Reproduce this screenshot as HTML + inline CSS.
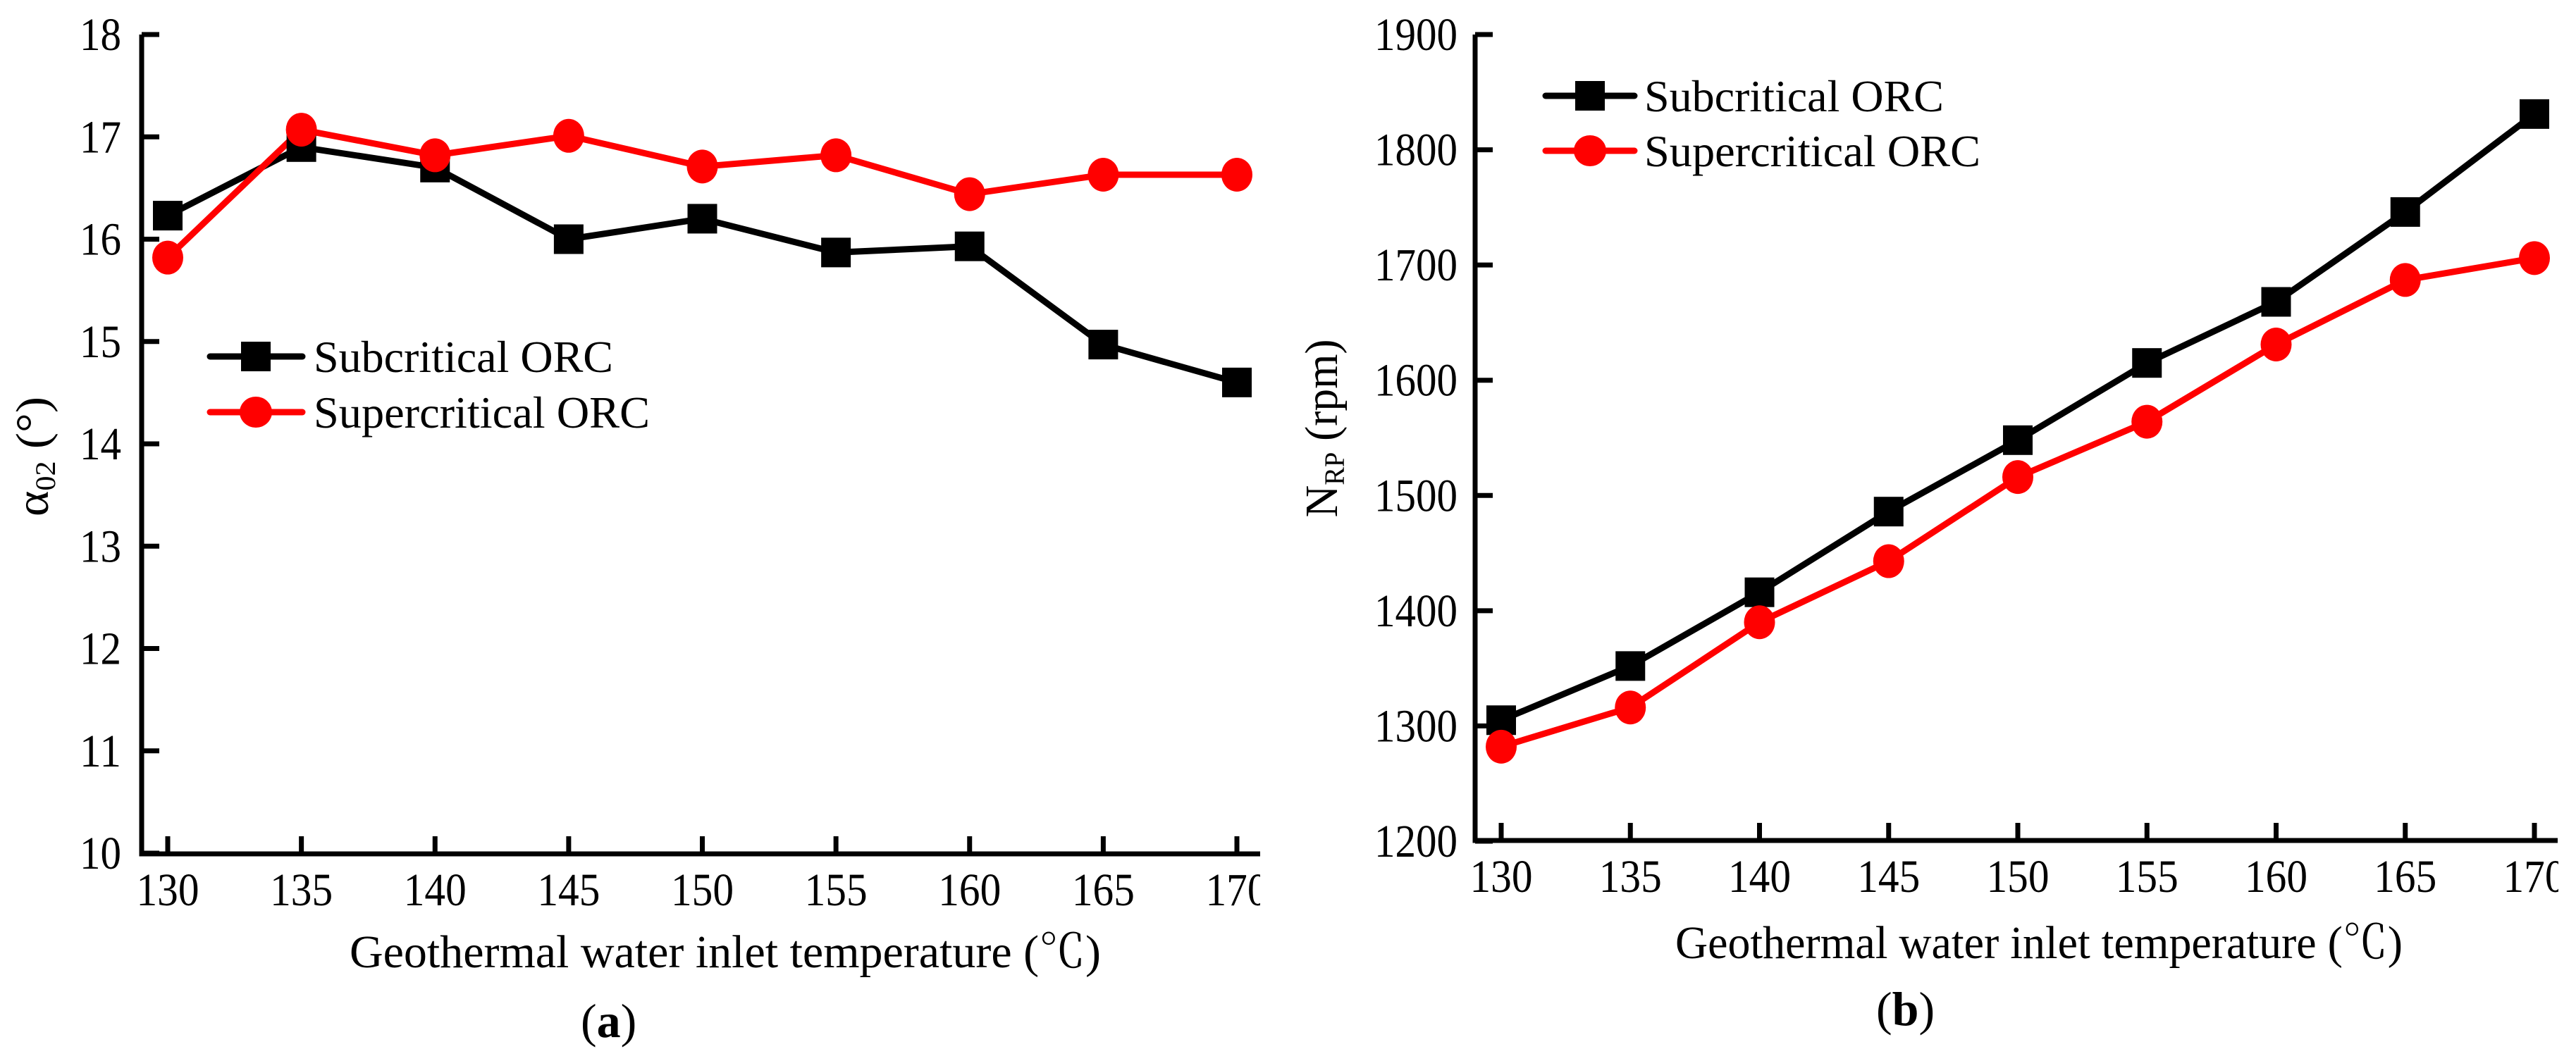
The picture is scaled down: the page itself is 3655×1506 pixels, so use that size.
<!DOCTYPE html>
<html><head><meta charset="utf-8"><style>
html,body{margin:0;padding:0;background:#fff}
svg{display:block}
text{font-family:"Liberation Serif","Noto Serif CJK SC",serif;fill:#000}
</style></head><body>
<svg id="fig" width="3655" height="1506" viewBox="0 0 3655 1506" xmlns="http://www.w3.org/2000/svg">
<defs>
<clipPath id="clipA"><rect x="0" y="0" width="1788" height="1506"/></clipPath>
<clipPath id="clipB"><rect x="1830" y="0" width="1800" height="1506"/></clipPath>
</defs>
<g id="chartA" clip-path="url(#clipA)"></g>
<g id="chartB" clip-path="url(#clipB)"></g>
<text x="68" y="648" font-size="66" text-anchor="middle" textLength="170" lengthAdjust="spacingAndGlyphs" transform="rotate(-90 68 648)">α<tspan font-size="40" dy="10">02</tspan><tspan dy="-10"> (°)</tspan></text>
<text x="1897" y="608" font-size="66" text-anchor="middle" textLength="253" lengthAdjust="spacingAndGlyphs" transform="rotate(-90 1897 608)">N<tspan font-size="40" dy="10">RP</tspan><tspan dy="-10"> (rpm)</tspan></text>
<text x="496" y="1373" font-size="66" textLength="1066" lengthAdjust="spacingAndGlyphs">Geothermal water inlet temperature (℃)</text>
<text x="2377" y="1360" font-size="66" textLength="1032" lengthAdjust="spacingAndGlyphs">Geothermal water inlet temperature (℃)</text>
<text x="824" y="1472" font-size="68">(<tspan font-weight="bold">a</tspan>)</text>
<text x="2662" y="1455" font-size="68">(<tspan font-weight="bold">b</tspan>)</text>
</svg>
<script>
const temps=[130,135,140,145,150,155,160,165,170];
const xTicks=[130,135,140,145,150,155,160,165,170];
const subA=[16.23,16.9,16.7,16.0,16.2,15.87,15.93,14.97,14.6];
const supA=[15.82,17.07,16.82,17.01,16.71,16.82,16.44,16.63,16.63];
const yTicksA=[10,11,12,13,14,15,16,17,18];
const subB=[1305,1352,1416,1486,1548,1615,1668,1746,1831];
const supB=[1282,1316,1390,1443,1516,1564,1631,1687,1706];
const yTicksB=[1200,1300,1400,1500,1600,1700,1800,1900];
const seriesNames=['Subcritical ORC','Supercritical ORC'];

const NS='http://www.w3.org/2000/svg';
function mk(tag,attrs,parent){const e=document.createElementNS(NS,tag);for(const k in attrs)e.setAttribute(k,attrs[k]);parent.appendChild(e);return e;}

function drawChart(g,cfg,sub,sup,yTicks){
  const sx=v=>cfg.x0+(v-130)/(170-130)*(cfg.x1-cfg.x0);
  const sy=v=>cfg.yb+(v-cfg.ymin)/(cfg.ymax-cfg.ymin)*(cfg.yt-cfg.yb);
  const ax=mk('path',{d:`M${cfg.ax} ${cfg.yt} L${cfg.ax} ${cfg.axy} L${cfg.xend} ${cfg.axy}`,fill:'none',stroke:'#000','stroke-width':7},g);
  
  
  yTicks.forEach(t=>{
    const y=sy(t);
    const tk=mk('line',{x1:cfg.ax,x2:cfg.ax+25,y1:y,y2:y,stroke:'#000','stroke-width':7},g);
    
    
    const s=String(t);
    const lb=mk('text',{x:cfg.lblR,y:y+22,'font-size':66,'text-anchor':'end',textLength:s.length*29.5,lengthAdjust:'spacingAndGlyphs'},g);
    lb.textContent=s;
    
    
  });
  xTicks.forEach(t=>{
    const x=sx(t);
    const tk=mk('line',{x1:x,x2:x,y1:cfg.axy,y2:cfg.axy-25,stroke:'#000','stroke-width':7},g);
    
    
    const lb=mk('text',{x:x,y:cfg.axy+73,'font-size':66,'text-anchor':'middle',textLength:89,lengthAdjust:'spacingAndGlyphs'},g);
    lb.textContent=String(t);
    
    
  });
  const series=[{d:sub,c:'#000',m:'sq',n:'subcritical'},{d:sup,c:'#ff0000',m:'ci',n:'supercritical'}];
  series.forEach(s=>{
    const pts=s.d.map((v,i)=>sx(temps[i])+','+sy(v)).join(' ');
    const pl=mk('polyline',{points:pts,fill:'none',stroke:s.c,'stroke-width':9,'stroke-linejoin':'round'},g);
    
    
  });
  series.forEach(s=>{
    s.d.forEach((v,i)=>{
      const x=sx(temps[i]),y=sy(v);
      let m;
      if(s.m==='sq') m=mk('rect',{x:x-21,y:y-21,width:42,height:42,fill:s.c},g);
      else m=mk('ellipse',{cx:x,cy:y,rx:22,ry:24,fill:s.c},g);
      
      
    });
  });
  series.forEach((s,i)=>{
    const y=cfg.legY[i];
    const ln=mk('line',{x1:cfg.legX0,x2:cfg.legX1,y1:y,y2:y,stroke:s.c,'stroke-width':9,'stroke-linecap':'round'},g);
    
    
    let m;
    if(s.m==='sq') m=mk('rect',{x:cfg.legM-21,y:y-21,width:42,height:42,fill:s.c},g);
    else m=mk('ellipse',{cx:cfg.legM,cy:y,rx:23,ry:22,fill:s.c},g);
    
    
    const t=mk('text',{x:cfg.legT,y:y+22,'font-size':64,textLength:i===0?425:477,lengthAdjust:'spacingAndGlyphs'},g);
    t.textContent=seriesNames[i];
    
    
  });
}
drawChart(document.getElementById('chartA'),
  {x0:238,x1:1755,ax:201,axy:1212,xend:1788,yt:49,yb:1211,ymin:10,ymax:18,lblR:172,
   legY:[506,585],legX0:298,legX1:429,legM:363,legT:445},subA,supA,yTicksA);
drawChart(document.getElementById('chartB'),
  {x0:2130,x1:3596,ax:2093,axy:1193,xend:3629,yt:49,yb:1194,ymin:1200,ymax:1900,lblR:2068,
   legY:[136,214],legX0:2193,legX1:2319,legM:2256,legT:2333},subB,supB,yTicksB);
</script>
</body></html>
